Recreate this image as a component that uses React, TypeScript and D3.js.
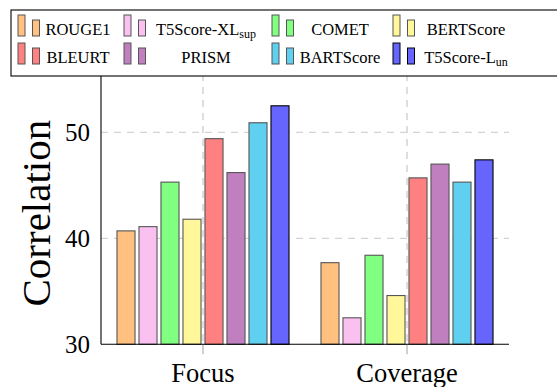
import React from 'react';
import * as d3 from 'd3';

const categories = ['Focus', 'Coverage'];
const metrics = ['ROUGE1', 'T5Score-XL_sup', 'COMET', 'BERTScore', 'BLEURT', 'PRISM', 'BARTScore', 'T5Score-L_un'];
const focusValues = [40.7, 41.1, 45.3, 41.8, 49.4, 46.2, 50.9, 52.5];
const coverageValues = [37.7, 32.5, 38.4, 34.6, 45.7, 47.0, 45.3, 47.4];
const colors = ['#FFC080', '#F9C0F0', '#80FF80', '#FFF799', '#FF8080', '#C080C0', '#60D0F0', '#6666FF'];
const yTicks = [30, 40, 50];

const W = 557;
const H = 387;
const left = 101;
const right = 509;
const bottom = 344.3;

// legend layout: 4 columns x 2 rows
const legendIconX = [18, 124, 272, 393];
const legendTextX = [78, 206, 340, 466];
const legendRowY = [36, 64];

const css = `
text.serif { font-family: 'Liberation Serif'; }
`;

function Label({ name, x, y }: { name: string; x: number; y: number }) {
  const [main, sub] = name.split('_');
  return (
    <text className="serif" x={x} y={y} textAnchor="middle" fontSize={16.5}>
      {main}
      {sub && <tspan fontSize={12} dy={3}>{sub}</tspan>}
    </text>
  );
}

export default function App() {
  const x0 = d3.scaleBand<string>().domain(categories).range([left, right]);
  const x1 = d3.scaleBand<string>()
    .domain(metrics)
    .range([-88, 88])
    .paddingInner(0.18)
    .paddingOuter(0.09);
  const y = d3.scaleLinear().domain([30, 55.5]).range([bottom, 74]);

  const series = [focusValues, coverageValues];

  return (
    <svg width={W} height={H} style={{ position: 'absolute', left: 0, top: 0, background: '#fff' }}>
      <style>{css}</style>
      {/* horizontal grid */}
      {yTicks.filter(t => t > 30).map(t => (
        <line key={t} x1={left} x2={right} y1={y(t)} y2={y(t)}
          stroke="#d4d4d4" strokeWidth={1.3} strokeDasharray="7 6" />
      ))}
      {/* vertical grid */}
      {categories.map(c => {
        const cx = x0(c)! + x0.bandwidth() / 2;
        return (
          <g key={c}>
            <line x1={cx} x2={cx} y1={y(55.5)} y2={bottom}
              stroke="#c4c4c4" strokeWidth={1.1} strokeDasharray="7 6" />
            <line x1={cx} x2={cx} y1={bottom} y2={bottom + 10} stroke="#aaa" strokeWidth={1.1} />
          </g>
        );
      })}

      {/* bars */}
      {categories.map((c, ci) => {
        const cx = x0(c)! + x0.bandwidth() / 2;
        return (
          <g key={c} transform={`translate(${cx},0)`}>
            {metrics.map((m, i) => (
              <rect key={m}
                x={x1(m)!}
                y={y(series[ci][i])}
                width={x1.bandwidth()}
                height={bottom - y(series[ci][i])}
                fill={colors[i]}
                stroke={i === metrics.length - 1 ? '#000' : '#555'}
                strokeWidth={1.1} />
            ))}
          </g>
        );
      })}

      {/* axes */}
      <line x1={left} x2={left} y1={y(55.5)} y2={bottom} stroke="#000" strokeWidth={1.1} />
      <line x1={left} x2={right} y1={bottom} y2={bottom} stroke="#000" strokeWidth={1.1} />

      {yTicks.map(t => (
        <text className="serif" key={t} x={left - 11} y={y(t) + 8.5} textAnchor="end" fontSize={25}>{t}</text>
      ))}
      {categories.map(c => (
        <text className="serif" key={c} x={x0(c)! + x0.bandwidth() / 2} y={382} textAnchor="middle" fontSize={26.5}>{c}</text>
      ))}
      <text className="serif" transform={`translate(50,${(y(55.5) + bottom) / 2 + 4}) rotate(-90)`} textAnchor="middle"
        fontSize={41}>Correlation</text>

      {/* legend */}
      <rect x={11} y={10} width={W} height={66} fill="#fff" stroke="#000" strokeWidth={1.1} />
      {metrics.map((m, i) => {
        const col = i % 4;
        const row = Math.floor(i / 4);
        const base = legendRowY[row];
        const ix = legendIconX[col];
        return (
          <g key={m}>
            <rect x={ix} y={base - 21} width={7} height={21} fill={colors[i]}
              stroke={i === metrics.length - 1 ? '#000' : '#555'} strokeWidth={1} />
            <rect x={ix + 14.5} y={base - 16} width={7} height={16} fill={colors[i]}
              stroke={i === metrics.length - 1 ? '#000' : '#555'} strokeWidth={1} />
            <Label name={m} x={legendTextX[col]} y={base - 1} />
          </g>
        );
      })}
    </svg>
  );
}
